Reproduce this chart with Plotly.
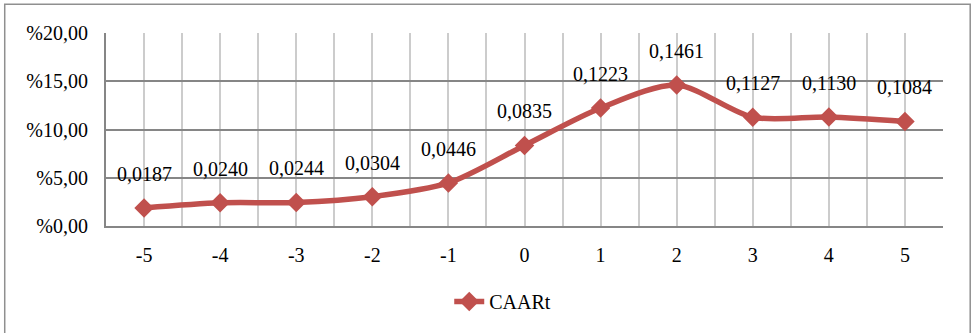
import plotly.graph_objects as go

days = [-5, -4, -3, -2, -1, 0, 1, 2, 3, 4, 5]
day_labels = ["-5", "-4", "-3", "-2", "-1", "0", "1", "2", "3", "4", "5"]
caar_pct = [1.87, 2.40, 2.44, 3.04, 4.46, 8.35, 12.23, 14.61, 11.27, 11.30, 10.84]
caar_labels = ["0,0187", "0,0240", "0,0244", "0,0304", "0,0446", "0,0835",
               "0,1223", "0,1461", "0,1127", "0,1130", "0,1084"]
y_ticks = [0, 5, 10, 15, 20]
y_tick_labels = ["%0,00", "%5,00", "%10,00", "%15,00", "%20,00"]

FONT = "Liberation Serif"
RED = "#C0504D"

fig = go.Figure()
fig.add_trace(go.Scatter(
    x=days, y=caar_pct, name="CAARt", mode="lines+markers",
    line=dict(color=RED, width=5.5, shape="spline", smoothing=0.8),
    marker=dict(symbol="diamond", size=15, color=RED),
))

for d, v, t in zip(days, caar_pct, caar_labels):
    fig.add_annotation(x=d, y=v, text=t, showarrow=False, yshift=34,
                       yanchor="middle", font=dict(family=FONT, size=20, color="black"))

# outer chart border
fig.add_shape(type="rect", xref="paper", yref="paper",
              x0=-0.121, x1=1.0325, y0=-0.7, y1=1.1487,
              line=dict(color="#8f8f8f", width=1.5), layer="below")

fig.update_layout(
    width=972, height=333,
    margin=dict(l=106, r=29, t=33, b=105),
    paper_bgcolor="white", plot_bgcolor="white",
    font=dict(family=FONT, size=20, color="black"),
    showlegend=True,
    legend=dict(orientation="h", x=0.474, xanchor="center", y=-0.29, yanchor="top",
                font=dict(family=FONT, size=20, color="black")),
    xaxis=dict(range=[-5.5, 5.5], tickmode="array", tickvals=days, ticktext=day_labels,
               showgrid=True, gridcolor="#cccccc", gridwidth=1.5, zeroline=False,
               showline=True, linecolor="#868686", linewidth=2,
               ticks="", ticklabelstandoff=10,
               minor=dict(tickmode="linear", tick0=-5.5, dtick=1, showgrid=True,
                          gridcolor="#cccccc", gridwidth=1.5),
               fixedrange=True),
    yaxis=dict(range=[0, 20], tickmode="array", tickvals=y_ticks, ticktext=y_tick_labels,
               showgrid=True, gridcolor="#868686", gridwidth=2,
               zeroline=True, zerolinecolor="#868686", zerolinewidth=2,
               showline=True, linecolor="#868686", linewidth=2,
               ticks="", ticklabelstandoff=12, fixedrange=True),
)

fig.write_html("out.html", config={"displayModeBar": False},
               post_script="document.body.style.margin='0';")
